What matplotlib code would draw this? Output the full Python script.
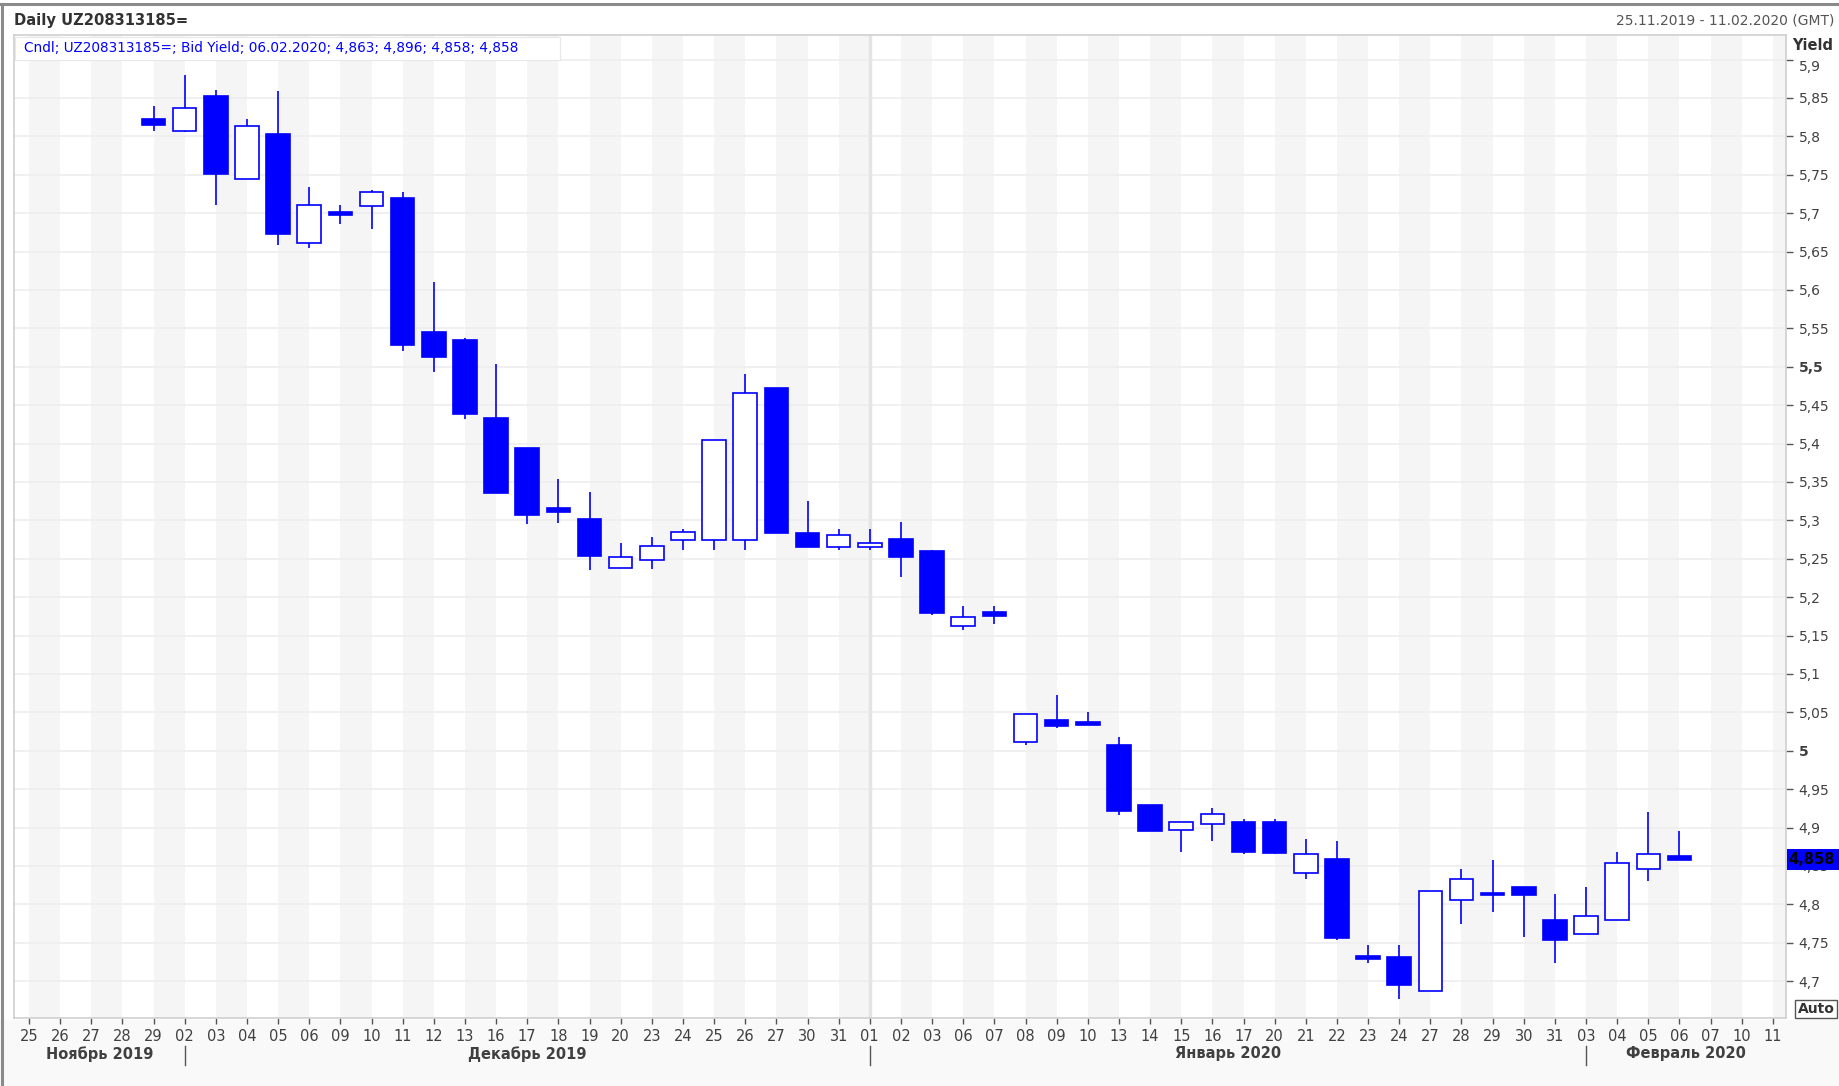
import numpy as np
import matplotlib.pyplot as plt
from matplotlib.lines import Line2D
from matplotlib.patches import Rectangle
import matplotlib.transforms as mtransforms

nan = np.nan

# trading days shown on the axis ----
dates = ["25.11.2019", "26.11.2019", "27.11.2019", "28.11.2019", "29.11.2019",
         "02.12.2019", "03.12.2019", "04.12.2019", "05.12.2019", "06.12.2019",
         "09.12.2019", "10.12.2019", "11.12.2019", "12.12.2019", "13.12.2019",
         "16.12.2019", "17.12.2019", "18.12.2019", "19.12.2019", "20.12.2019",
         "23.12.2019", "24.12.2019", "25.12.2019", "26.12.2019", "27.12.2019",
         "30.12.2019", "31.12.2019",
         "01.01.2020", "02.01.2020", "03.01.2020", "06.01.2020", "07.01.2020",
         "08.01.2020", "09.01.2020", "10.01.2020", "13.01.2020", "14.01.2020",
         "15.01.2020", "16.01.2020", "17.01.2020", "20.01.2020", "21.01.2020",
         "22.01.2020", "23.01.2020", "24.01.2020", "27.01.2020", "28.01.2020",
         "29.01.2020", "30.01.2020", "31.01.2020",
         "03.02.2020", "04.02.2020", "05.02.2020", "06.02.2020", "07.02.2020",
         "10.02.2020", "11.02.2020"]

# OHLC bid yield ----
opens = [nan, nan, nan, nan, 5.822,
         5.807, 5.853, 5.744, 5.803, 5.661, 5.702, 5.709, 5.720, 5.545, 5.535,
         5.433, 5.394, 5.316, 5.302, 5.238, 5.248, 5.274, 5.274, 5.274, 5.472,
         5.283, 5.265,
         5.265, 5.276, 5.260, 5.162, 5.181, 5.011, 5.040, 5.038, 5.007, 4.930,
         4.897, 4.904, 4.907, 4.907, 4.841, 4.859, 4.733, 4.731, 4.687, 4.806,
         4.815, 4.823, 4.780,
         4.762, 4.779, 4.846, 4.863, nan, nan, nan]
highs = [nan, nan, nan, nan, 5.839,
         5.880, 5.861, 5.822, 5.859, 5.734, 5.710, 5.730, 5.728, 5.610, 5.537,
         5.503, 5.394, 5.354, 5.337, 5.270, 5.278, 5.289, 5.404, 5.491, 5.472,
         5.325, 5.289,
         5.289, 5.298, 5.262, 5.188, 5.188, 5.048, 5.072, 5.051, 5.018, 4.930,
         4.907, 4.925, 4.911, 4.911, 4.885, 4.883, 4.747, 4.747, 4.817, 4.846,
         4.858, 4.823, 4.814,
         4.823, 4.868, 4.920, 4.896, nan, nan, nan]
lows = [nan, nan, nan, nan, 5.807,
        5.806, 5.711, 5.744, 5.659, 5.655, 5.686, 5.680, 5.521, 5.493, 5.432,
        5.336, 5.295, 5.296, 5.236, 5.238, 5.237, 5.261, 5.261, 5.261, 5.284,
        5.265, 5.262,
        5.262, 5.226, 5.177, 5.157, 5.165, 5.007, 5.029, 5.033, 4.916, 4.895,
        4.868, 4.883, 4.866, 4.866, 4.833, 4.753, 4.723, 4.677, 4.687, 4.775,
        4.790, 4.757, 4.723,
        4.762, 4.779, 4.831, 4.858, nan, nan, nan]
closes = [nan, nan, nan, nan, 5.815,
          5.837, 5.751, 5.814, 5.673, 5.710, 5.697, 5.727, 5.528, 5.513, 5.438,
          5.336, 5.307, 5.311, 5.253, 5.252, 5.267, 5.285, 5.404, 5.466, 5.284,
          5.265, 5.281,
          5.271, 5.252, 5.180, 5.174, 5.175, 5.048, 5.032, 5.034, 4.921, 4.895,
          4.907, 4.918, 4.868, 4.867, 4.865, 4.756, 4.729, 4.695, 4.817, 4.833,
          4.812, 4.812, 4.754,
          4.785, 4.854, 4.865, 4.858, nan, nan, nan]

month_names = ["Ноябрь 2019", "Декабрь 2019", "Январь 2020", "Февраль 2020"]
title_left = "Daily UZ208313185="
title_right = "25.11.2019 - 11.02.2020 (GMT)"
legend_text = "Cndl; UZ208313185=; Bid Yield; 06.02.2020; 4,863; 4,896; 4,858; 4,858"
last_value = 4.858

BLUE = "#0000ff"
TXT = "#404040"

W, H = 1839, 1086
fig = plt.figure(figsize=(W / 100, H / 100), dpi=100)
fig.patch.set_facecolor("white")

# bottom strip behind the date axis
fig.add_artist(Rectangle((0, 0), 1, 1 - 1020 / H, transform=fig.transFigure,
                         facecolor="#f9f9f9", edgecolor="none", zorder=0))

ax = fig.add_axes([14 / W, 1 - 1018 / H, (1786 - 14) / W, (1018 - 35) / H])
ax.set_facecolor("white")

x = np.arange(len(dates))
o = np.array(opens); h = np.array(highs); l = np.array(lows); c = np.array(closes)

# alternating day stripes
for i in range(0, len(dates), 2):
    ax.axvspan(i, i + 1, color="#f5f5f5", lw=0, zorder=0)

yticks = np.round(np.arange(4.70, 5.9001, 0.05), 2)
for yv in yticks:
    ax.axhline(yv, color="#efefef", lw=1.3, zorder=0.5)

# month starts
month_start = [i for i in range(1, len(dates)) if dates[i][3:5] != dates[i - 1][3:5]]
year_start = [i for i in month_start if dates[i][6:] != dates[i - 1][6:]]
for i in year_start:
    ax.axvline(i, color="#e4e4e4", lw=2.5, zorder=0.6)

# candles
valid = ~np.isnan(o)
ax.vlines(x[valid], l[valid], h[valid], color=BLUE, lw=1.2, zorder=2)
up = valid & (c >= o)
dn = valid & (c < o)
ax.bar(x[up], (c - o)[up], bottom=o[up], width=0.76, facecolor="white",
       edgecolor=BLUE, linewidth=1.2, zorder=3)
ax.bar(x[dn], (o - c)[dn], bottom=c[dn], width=0.76, facecolor=BLUE,
       edgecolor=BLUE, linewidth=1.2, zorder=3)

xmin, xmax = -0.48, 56.42
ax.set_xlim(xmin, xmax)
ax.set_ylim(4.652, 5.932)

for s in ["left", "top", "bottom", "right"]:
    ax.spines[s].set_color("#cfcfcf")
    ax.spines[s].set_linewidth(1.2)

# x axis: day numbers
ax.set_xticks(x, [d[:2] for d in dates])
ax.tick_params(axis="x", length=4, width=1, color="#555555", pad=4,
               labelsize=10.5, labelcolor=TXT)
for t in ax.get_xticklabels():
    t.set_family(["Liberation Sans Narrow", "DejaVu Sans"])

# month labels + separators
trans = mtransforms.blended_transform_factory(ax.transData, ax.transAxes)
bounds = [xmin] + month_start + [xmax]
for k, name in enumerate(month_names):
    cx = (bounds[k] + bounds[k + 1]) / 2
    ax.text(cx, -0.0366, name, transform=trans, ha="center", va="center",
            fontsize=10.5, fontweight="bold", color=TXT,
            family=["Liberation Sans Narrow", "DejaVu Sans"])
for i in month_start:
    ax.add_artist(Line2D([i, i], [-0.028, -0.048], transform=trans,
                         color="#555555", lw=1, clip_on=False))

# y axis on the right
ax.yaxis.tick_right()
ylabels = [f"{v:g}".replace(".", ",") for v in yticks]
ax.set_yticks(yticks, ylabels)
ax.tick_params(axis="y", length=5, width=1, color="#555555", pad=4,
               labelsize=10, labelcolor=TXT)
for t, v in zip(ax.get_yticklabels(), yticks):
    if abs(v - 5.5) < 1e-6 or abs(v - 5.0) < 1e-6:
        t.set_fontweight("bold")
    if abs(v - 5.9) < 1e-6:
        t.set_va("top")

# header texts
fig.text(14 / W, 1 - 21 / H, title_left, ha="left", va="center",
         fontsize=10.6, fontweight="bold", color="#333333")
fig.text(1834 / W, 1 - 21 / H, title_right, ha="right", va="center",
         fontsize=10, color="#555555")
fig.text(1833 / W, 1 - 45 / H, "Yield", ha="right", va="center",
         fontsize=10.5, fontweight="bold", color="#333333")

# legend box
fig.add_artist(Rectangle((15 / W, 1 - 60 / H), (560 - 15) / W, 23 / H,
                         transform=fig.transFigure, facecolor="white",
                         edgecolor="#e8e8e8", lw=0.8, zorder=5))
fig.text(24 / W, 1 - 48 / H, legend_text, ha="left", va="center",
         fontsize=9.8, color=BLUE, zorder=6)

# last value marker
ty = mtransforms.blended_transform_factory(fig.transFigure, ax.transData)
fig.add_artist(Rectangle((1787 / W, last_value - 0.0135), (W - 1787) / W, 0.027,
                         transform=ty, facecolor=BLUE, edgecolor="none",
                         zorder=7, clip_on=False))
fig.text(1788 / W, last_value, f"{last_value:.3f}".replace(".", ","),
         transform=ty, ha="left", va="center", fontsize=10.5,
         fontweight="bold", color="black", zorder=8)

# "Auto" box
fig.text(1816 / W, 1 - 1009 / H, "Auto", ha="center", va="center",
         fontsize=10, fontweight="bold", color="#333333",
         bbox=dict(boxstyle="square,pad=0.15", facecolor="white",
                   edgecolor="#555555", lw=1), zorder=8)

# outer frame
fig.add_artist(Line2D([0, 1], [1 - 4 / H] * 2, transform=fig.transFigure,
                      color="#8a8a8a", lw=2.2))
fig.add_artist(Line2D([2 / W] * 2, [0, 1 - 4 / H], transform=fig.transFigure,
                      color="#8a8a8a", lw=2.2))

fig.savefig("out.png", dpi=100)
